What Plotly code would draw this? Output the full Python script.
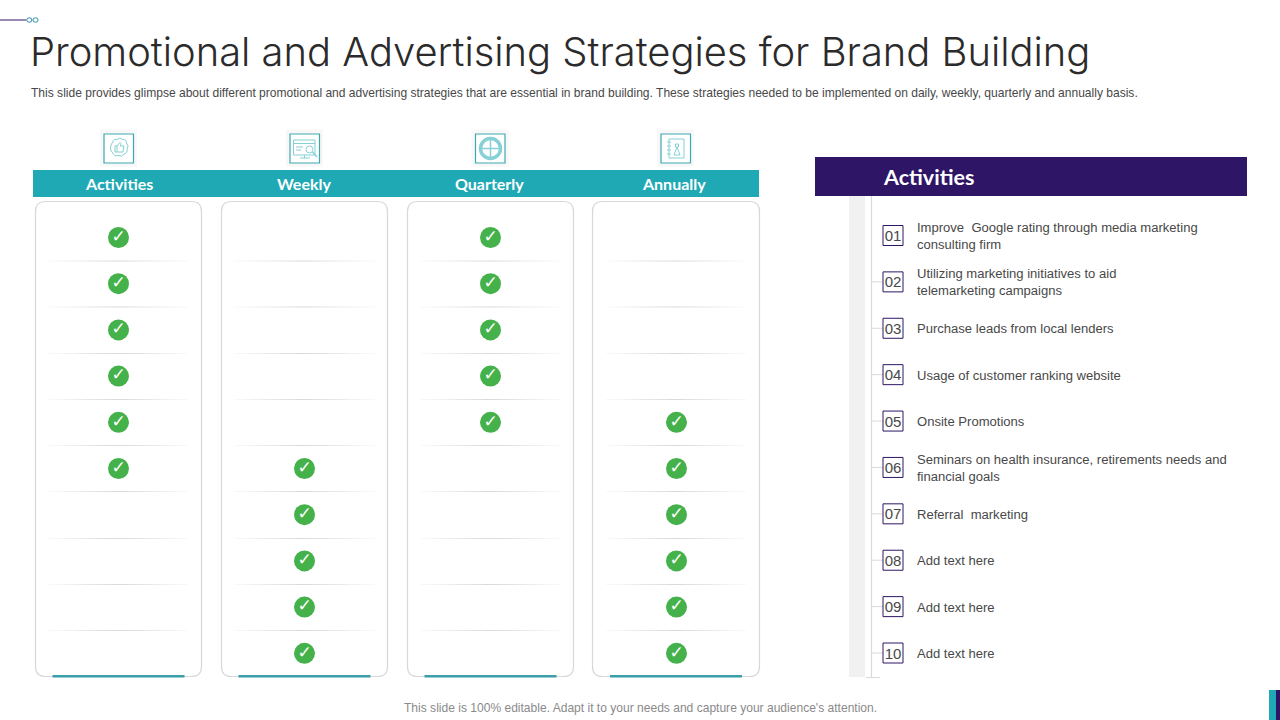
import plotly.graph_objects as go

title = "Promotional and Advertising Strategies for Brand Building"
subtitle = ("This slide provides glimpse about different promotional and advertising strategies that are "
            "essential in brand building. These strategies needed to be implemented on daily, weekly, "
            "quarterly and annually basis.")
footer = "This slide is 100% editable. Adapt it to your needs and capture your audience's attention."

columns = ["Activities", "Weekly", "Quarterly", "Annually"]
rows = ["01", "02", "03", "04", "05", "06", "07", "08", "09", "10"]
activities_col = [1, 1, 1, 1, 1, 1, 0, 0, 0, 0]
weekly_col = [0, 0, 0, 0, 0, 1, 1, 1, 1, 1]
quarterly_col = [1, 1, 1, 1, 1, 0, 0, 0, 0, 0]
annually_col = [0, 0, 0, 0, 1, 1, 1, 1, 1, 1]
checks = [activities_col, weekly_col, quarterly_col, annually_col]

list_title = "Activities"
list_items = [
    "Improve  Google rating through media marketing<br>consulting firm",
    "Utilizing marketing initiatives to aid<br>telemarketing campaigns",
    "Purchase leads from local lenders",
    "Usage of customer ranking website",
    "Onsite Promotions",
    "Seminars on health insurance, retirements needs and<br>financial goals",
    "Referral  marketing",
    "Add text here",
    "Add text here",
    "Add text here",
]

TEAL = "#1fa9b5"
PURPLE = "#2e1566"
GREEN = "#45b14b"
TEXT = "#484848"
BORDER = "#dadada"
ICON = "#86d0d6"
BODY = "Liberation Sans"
HEAD = "Lato"

shapes = []


def rect(x0, y0, x1, y1, fill, line=None, width=0):
    shapes.append(dict(type="rect", x0=x0, y0=y0, x1=x1, y1=y1, fillcolor=fill,
                       line=dict(color=line or fill, width=width), layer="below", xref="x", yref="y"))


def path(d, color=ICON, width=1, fill=None):
    shapes.append(dict(type="path", path=d, line=dict(color=color, width=width), fillcolor=fill,
                       layer="below", xref="x", yref="y"))


def round_box(x0, y0, x1, y1, r):
    path(f"M{x0+r},{y0} L{x1-r},{y0} Q{x1},{y0} {x1},{y0+r} L{x1},{y1-r} Q{x1},{y1} {x1-r},{y1} "
         f"L{x0+r},{y1} Q{x0},{y1} {x0},{y1-r} L{x0},{y0+r} Q{x0},{y0} {x0+r},{y0} Z",
         color="#d8d8d8", width=1.2, fill="white")


# top decoration and corner block
path("M0,20 L26,20", color=PURPLE, width=1)
for dot in (29.3, 35.5):
    shapes.append(dict(type="circle", x0=dot - 2.6, x1=dot + 2.6, y0=17.8, y1=22.2, xref="x", yref="y",
                       line=dict(color="#2b8fa8", width=1), layer="below"))
rect(1269, 690, 1276, 720, TEAL)
rect(1276, 690, 1280, 720, PURPLE)

# table header band and panels
rect(33, 170, 759, 197, TEAL)
panel_edges = [(35.5, 201.5), (221.5, 387.5), (407.5, 573.5), (592.5, 759.5)]
rule_ys = [261, 307, 353.5, 399.5, 445.5, 491.5, 538.5, 584.5, 630.5]
for x0, x1 in panel_edges:
    round_box(x0, 201.5, x1, 676.5, 10)
    mid = (x0 + x1) / 2
    rect(mid - 66, 675, mid + 66, 677.5, "#3a9fa8")
    for y in rule_ys:
        steps = 8
        for i in range(steps):
            grey = 252 - int(34 * (i + 1) / steps)
            c = f"rgb({grey},{grey},{grey})"
            a = 70 * i / steps
            b = 70 * (i + 1) / steps
            path(f"M{mid-70+a},{y} L{mid-70+b},{y}", color=c, width=1)
            path(f"M{mid+70-a},{y} L{mid+70-b},{y}", color=c, width=1)

# icon tiles above the header band
icon_boxes = [104, 290, 475.5, 661]
for bx in icon_boxes:
    rect(bx - 4, 129.5, bx + 33, 166.5, "#f8f8f8")
    rect(bx, 134, bx + 29.5, 163, "white", line="#3fa7b0", width=1.2)

# thumb in a gear
path("M110.5,148 Q111,143 113,142 Q113,138.5 117,139.5 Q120,136.5 122.5,139.5 Q126.5,139 126.5,143 "
     "Q129.5,146 127,149 Q128,153 124,154 Q122,157.5 118,155.5 Q113.5,156.5 113,153 Q110,151.5 110.5,148 Z")
path("M115,146 L117,146 L117,152 L115,152 Z M117,146 L120,142.5 L121,143.5 L120.5,146 L124,146 L123,152 L117,152")
# monitor and magnifier
path("M293.5,140 L315,140 L315,155 L293.5,155 Z M293.5,143.5 L315,143.5 M300,158 L310,158 M304.5,155 L304.5,158")
path("M296,147 L303,147 M296,150 L301,150")
path("M312.5,152 L317,157", width=1.5)
shapes.append(dict(type="circle", x0=306, x1=313, y0=146, y1=153, xref="x", yref="y",
                   line=dict(color=ICON, width=1), layer="below"))
# compass-like disc
shapes.append(dict(type="circle", x0=480.5, x1=500.5, y0=138.5, y1=158.5, xref="x", yref="y",
                   line=dict(color=ICON, width=3.5), layer="below"))
path("M490.5,138.5 L490.5,158.5 M480.5,148.5 L500.5,148.5", width=1.5)
# notebook
path("M669,139 L684,139 L684,158 L669,158 Z M667,142 L671,142 M667,146 L671,146 M667,150 L671,150 M667,154 L671,154")
path("M674,155 L677,147 L680,155 Z M675.5,144 L678.5,144 L678.5,147 L675.5,147 Z")

# activities list panel
rect(815, 157, 1247, 196, PURPLE)
rect(849, 196, 865, 677, "#f1f1f1")
path("M871.5,196 L871.5,677.5 M866,677.5 L880,677.5", color=BORDER, width=1.2)
for row in rows:
    shapes.append(dict(type="line", xref="x", yref="y3", x0=871.5, x1=883, y0=row, y1=row,
                       line=dict(color=BORDER, width=1), layer="below"))

fig = go.Figure()

# invisible trace so the pixel axes are live
fig.add_trace(go.Scatter(x=[0, 1280], y=[720, 0], mode="markers", marker=dict(opacity=0),
                         hoverinfo="skip", showlegend=False))

# check matrix on its own category axes
cx, cy = [], []
for name, col in zip(columns, checks):
    for row, flag in zip(rows, col):
        if flag:
            cx.append(name)
            cy.append(row)
fig.add_trace(go.Scatter(x=cx, y=cy, xaxis="x2", yaxis="y2", mode="markers+text", cliponaxis=False,
                         marker=dict(size=21, color=GREEN, line=dict(width=0)),
                         text=["✓"] * len(cx), textposition="middle center",
                         textfont=dict(family="DejaVu Sans", size=17, color="white"),
                         showlegend=False))

# numbered list on a third pair of axes, text nudged down via its own y axis
fig.add_trace(go.Scatter(x=[0] * len(rows), y=rows, xaxis="x3", yaxis="y3", mode="markers", cliponaxis=False,
                         marker=dict(symbol="square", size=20, color="white",
                                     line=dict(color=PURPLE, width=1)),
                         showlegend=False))
fig.add_trace(go.Scatter(x=[0] * len(rows), y=rows, xaxis="x3", yaxis="y4", mode="text", cliponaxis=False,
                         text=rows, textposition="middle center",
                         textfont=dict(family=BODY, size=15, color=TEXT), showlegend=False))
fig.add_trace(go.Scatter(x=[1] * len(rows), y=rows, xaxis="x3", yaxis="y4", mode="text", cliponaxis=False,
                         text=list_items, textposition="middle right",
                         textfont=dict(family=BODY, size=13.05, color=TEXT), showlegend=False))

fig.add_annotation(x=27.5, y=51, xref="x", yref="y", text=title, showarrow=False, xanchor="left", yanchor="middle",
                   font=dict(family="Inter", size=39.9, color="#2b2b2b", weight=300))
fig.add_annotation(x=29, y=92.5, xref="x", yref="y", text=subtitle, showarrow=False, xanchor="left",
                   yanchor="middle", font=dict(family=BODY, size=12.05, color=TEXT))
fig.add_annotation(x=640, y=707.5, xref="x", yref="y", text=footer, showarrow=False, yanchor="middle",
                   font=dict(family=BODY, size=12.05, color="#8a8a8a"))
fig.add_annotation(x=881, y=177, xref="x", yref="y", text=list_title, showarrow=False, xanchor="left",
                   yanchor="middle", font=dict(family=HEAD, size=21.5, color="white", weight=700))
for name, nudge in zip(columns, [0, -0.5, -1, -3]):
    fig.add_annotation(x=name, y=183.3, xref="x2", yref="y", text=name, showarrow=False, yanchor="middle",
                       xshift=nudge, font=dict(family=HEAD, size=16, color="white", weight=700))

hidden = dict(visible=False, fixedrange=True)
fig.update_layout(
    width=1280, height=720, margin=dict(l=0, r=0, t=0, b=0),
    paper_bgcolor="white", plot_bgcolor="rgba(0,0,0,0)", showlegend=False, shapes=shapes,
    xaxis=dict(range=[0, 1280], domain=[0, 1], **hidden),
    yaxis=dict(range=[720, 0], domain=[0, 1], **hidden),
    xaxis2=dict(type="category", categoryorder="array", categoryarray=columns, range=[-0.5, 3.5],
                domain=[25.5 / 1280, 769.5 / 1280], anchor="y2", **hidden),
    yaxis2=dict(type="category", categoryorder="array", categoryarray=rows, range=[9.5, -0.5],
                domain=[1 - 676.4 / 720, 1 - 214.4 / 720], anchor="x2", **hidden),
    xaxis3=dict(range=[0, 1], domain=[893 / 1280, 917 / 1280], anchor="y3", **hidden),
    yaxis3=dict(type="category", categoryorder="array", categoryarray=rows, range=[9.5, -0.5],
                domain=[1 - 676.2 / 720, 1 - 212.3 / 720], anchor="x3", **hidden),
    yaxis4=dict(type="category", categoryorder="array", categoryarray=rows, range=[9.5, -0.5],
                domain=[1 - 678.0 / 720, 1 - 214.1 / 720], anchor="x3", **hidden),
)

fig.write_html("out.html", config=dict(displayModeBar=False),
               post_script="document.body.style.margin='0';")
